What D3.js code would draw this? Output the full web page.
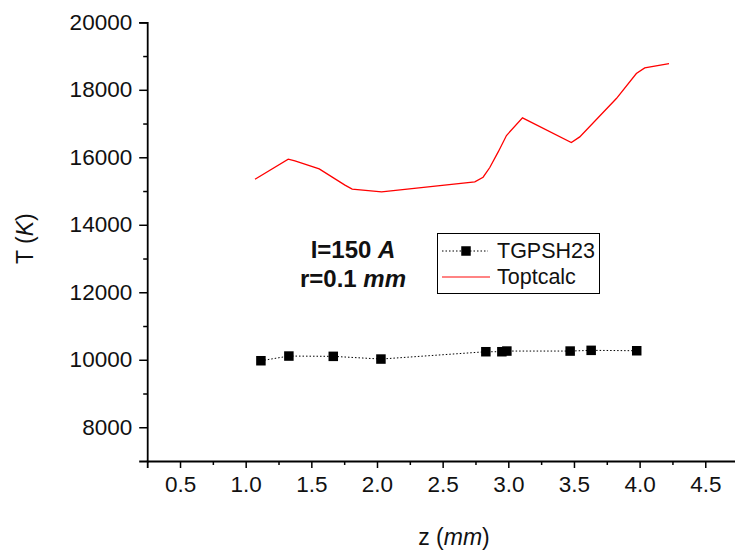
<!DOCTYPE html>
<html>
<head>
<meta charset="utf-8">
<script src="https://cdn.jsdelivr.net/npm/d3@7"></script>
<style>
  html, body { margin: 0; padding: 0; background: #fff; }
  svg { display: block; font-family: Arial, "Liberation Sans", sans-serif; }
</style>
</head>
<body>
<svg id="chart" width="735" height="551"></svg>
<script>
// ---- data ----
const toptZ = [1.071, 1.324, 1.375, 1.560, 1.756, 1.811, 2.035, 2.745, 2.808, 2.859, 2.923, 2.986, 3.108, 3.480, 3.544, 3.823, 3.975, 4.039, 4.224];
const toptT = [15351, 15943, 15893, 15656, 15174, 15055, 14976, 15272, 15410, 15697, 16159, 16645, 17167, 16438, 16604, 17741, 18481, 18647, 18777];
const tgpZ = [1.116, 1.329, 1.667, 2.030, 2.829, 2.951, 2.989, 3.471, 3.631, 3.978];
const tgpT = [9971, 10110, 10101, 10021, 10238, 10238, 10258, 10258, 10279, 10267];
const xTicks = [0.5, 1.0, 1.5, 2.0, 2.5, 3.0, 3.5, 4.0, 4.5];
const xMinor = [0.75, 1.25, 1.75, 2.25, 2.75, 3.25, 3.75, 4.25, 4.75];
const yTicks = [8000, 10000, 12000, 14000, 16000, 18000, 20000];
const yMinor = [9000, 11000, 13000, 15000, 17000, 19000];
const seriesNames = ["TGPSH23", "Toptcalc"];

// ---- layout ----
const svg = d3.select("#chart");
const x = d3.scaleLinear().domain([0.25, 4.75]).range([147.2, 738.1]);
const y = d3.scaleLinear().domain([7000, 20000]).range([461, 22.3]);

// axes
svg.append("g").attr("transform", `translate(0,${y(7000)})`)
  .call(d3.axisBottom(x).tickValues(xTicks).tickFormat(d3.format(".1f")).tickSize(7).tickPadding(8));
svg.append("g").attr("transform", `translate(0,${y(7000)})`)
  .call(d3.axisBottom(x).tickValues(xMinor).tickFormat("").tickSize(4))
  .select(".domain").remove();
svg.append("g").attr("transform", `translate(${x(0.25)},0)`)
  .call(d3.axisLeft(y).tickValues(yTicks).tickFormat(d3.format("d")).tickSize(8).tickPadding(7));
svg.append("g").attr("transform", `translate(${x(0.25)},0)`)
  .call(d3.axisLeft(y).tickValues(yMinor).tickFormat("").tickSize(4))
  .select(".domain").remove();

svg.selectAll(".domain").attr("stroke", "#000").attr("stroke-width", 1.8);
svg.selectAll(".tick line").attr("stroke", "#000").attr("stroke-width", 1.5);
svg.selectAll(".tick text").attr("fill", "#111").style("font-size", "22.5px")
  .style("font-family", "Arial, 'Liberation Sans', sans-serif");

// axis titles
const yt = svg.append("text")
  .attr("transform", `translate(33,${(y(7000) + y(20000)) / 2 - 3}) rotate(-90)`)
  .attr("text-anchor", "middle").style("font-size", "23px").attr("fill", "#111");
yt.append("tspan").text("T (");
yt.append("tspan").attr("font-style", "italic").text("K");
yt.append("tspan").text(")");

const xt = svg.append("text")
  .attr("x", 454).attr("y", 545)
  .attr("text-anchor", "middle").style("font-size", "23px").attr("fill", "#111");
xt.append("tspan").text("z (");
xt.append("tspan").attr("font-style", "italic").text("mm");
xt.append("tspan").text(")");

// red line
const toptData = toptZ.map((z, i) => [z, toptT[i]]);
svg.append("path").datum(toptData)
  .attr("fill", "none").attr("stroke", "#ff0000").attr("stroke-width", 1.3)
  .attr("d", d3.line().x(d => x(d[0])).y(d => y(d[1])));

// black dotted line + squares
const tgpData = tgpZ.map((z, i) => [z, tgpT[i]]);
svg.append("path").datum(tgpData)
  .attr("fill", "none").attr("stroke", "#000").attr("stroke-width", 1)
  .attr("stroke-dasharray", "1.5,2")
  .attr("d", d3.line().x(d => x(d[0])).y(d => y(d[1])));
const sq = 9.5;
svg.append("g").selectAll("rect").data(tgpData).join("rect")
  .attr("x", d => x(d[0]) - sq / 2).attr("y", d => y(d[1]) - sq / 2)
  .attr("width", sq).attr("height", sq).attr("fill", "#000");

// annotation
const ann = svg.append("text").attr("text-anchor", "middle")
  .style("font-size", "24px").attr("font-weight", "bold").attr("fill", "#111");
const l1 = ann.append("tspan").attr("x", 353).attr("y", 258);
l1.append("tspan").text("I=150 ");
l1.append("tspan").attr("font-style", "italic").text("A");
const l2 = ann.append("tspan").attr("x", 353).attr("y", 287);
l2.append("tspan").text("r=0.1 ");
l2.append("tspan").attr("font-style", "italic").text("mm");

// legend
const lg = svg.append("g");
lg.append("rect").attr("x", 437.5).attr("y", 233.5).attr("width", 162).attr("height", 60)
  .attr("fill", "#fff").attr("stroke", "#000").attr("stroke-width", 1);
lg.append("line").attr("x1", 442).attr("x2", 488).attr("y1", 251).attr("y2", 251)
  .attr("stroke", "#000").attr("stroke-width", 1).attr("stroke-dasharray", "1.5,2");
lg.append("rect").attr("x", 466 - sq / 2).attr("y", 251 - sq / 2).attr("width", sq).attr("height", sq).attr("fill", "#000");
lg.append("line").attr("x1", 442).attr("x2", 490).attr("y1", 277).attr("y2", 277)
  .attr("stroke", "#ff5a5a").attr("stroke-width", 1.3);
lg.selectAll("text.lab").data(seriesNames).join("text").attr("class", "lab")
  .attr("x", 497).attr("y", (d, i) => 257.5 + i * 26)
  .style("font-size", "21.5px").attr("fill", "#111").text(d => d);
</script>
</body>
</html>
